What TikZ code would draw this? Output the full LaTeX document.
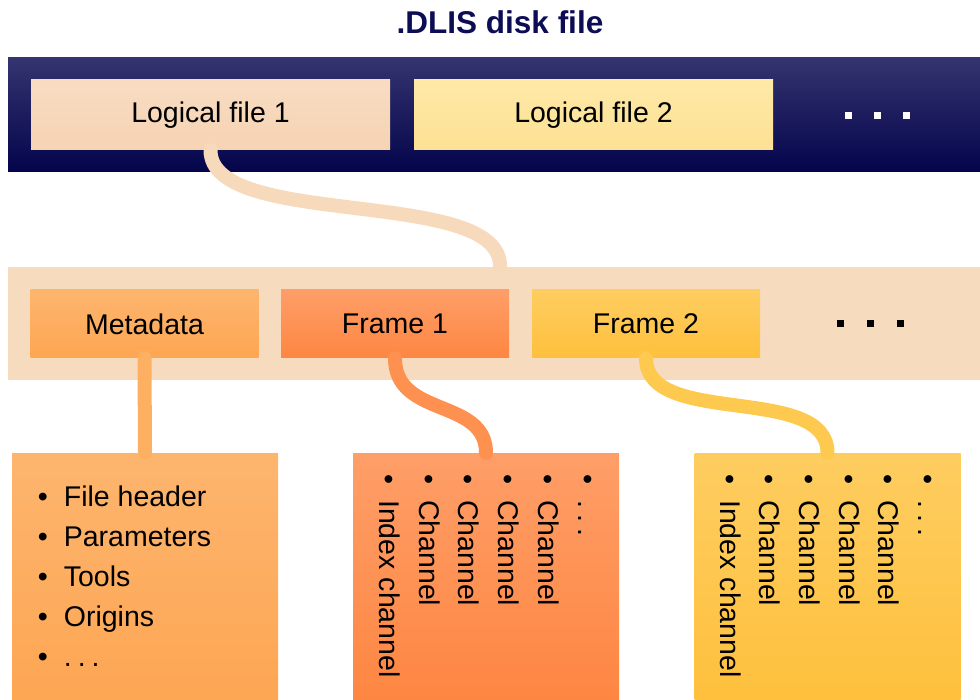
\documentclass[tikz,border=0pt]{standalone}
\usepackage{fontspec}
\setmainfont{Liberation Sans}

\definecolor{titlenavy}{HTML}{0D0D55}
\definecolor{navytop}{HTML}{34346F}
\definecolor{navybot}{HTML}{04044C}
\definecolor{peachtop}{HTML}{F8DCC2}
\definecolor{peachbot}{HTML}{F6D3B3}
\definecolor{creamtop}{HTML}{FEE9A8}
\definecolor{creambot}{HTML}{FDE193}
\definecolor{peachband}{HTML}{F7DBBF}
\definecolor{metatop}{HTML}{FDB56E}
\definecolor{metabot}{HTML}{FDA653}
\definecolor{frametop}{HTML}{FE9E68}
\definecolor{framebot}{HTML}{FE8642}
\definecolor{goldtop}{HTML}{FECD60}
\definecolor{goldbot}{HTML}{FEC03D}
\definecolor{peachlink}{HTML}{F7D9BB}
\definecolor{metalink}{HTML}{FDB062}
\definecolor{framelink}{HTML}{FE9050}
\definecolor{goldlink}{HTML}{FEC94F}

\newcommand\labelfont{\fontsize{28.5}{34}\selectfont}
\newcommand\titlefont{\fontsize{31.5}{38}\selectfont\bfseries}
\newcommand\moredots{.\hspace{6pt}.\hspace{6pt}.}

\tikzset{
  band/.style={rectangle, inner sep=0, minimum width=972, minimum height=114},
  box/.style={rectangle, inner sep=0, minimum width=228, minimum height=68, font=\labelfont},
  filebox/.style={rectangle, inner sep=0, minimum width=359, minimum height=70, font=\labelfont},
  listbox/.style={rectangle, inner sep=0, minimum width=266, minimum height=247},
  item/.style={anchor=base west, inner sep=0, font=\labelfont},
  chan/.style={item, rotate=-90},
  sq/.style={rectangle, inner sep=0, minimum size=7},
  link/.style={line width=14, line cap=round},
}

\begin{document}
\begin{tikzpicture}[x=1pt,y=-1pt]
\useasboundingbox (0,0) rectangle (980,700);

% Gap between bullet and text
\def\gap{16pt}
% Space between channel columns
\def\colsep{39.7}

% Disk file
\node (title) [anchor=base, font=\titlefont, text=titlenavy] at (500,33.3) {.DLIS disk file};
\node (disk) [band, top color=navytop, bottom color=navybot] at (494,115) {};
\node (lf1) [filebox, top color=peachtop, bottom color=peachbot] at (210.5,115) {Logical file 1};
\node (lf2) [filebox, top color=creamtop, bottom color=creambot] at (593.5,115) {Logical file 2};
\node (more1) [sq, fill=white] at (848.5,115.5) {};
\node (more2) [sq, fill=white] at (877.5,115.5) {};
\node (more3) [sq, fill=white] at (906.5,115.5) {};

% Logical file
\node (logical) [band, minimum height=113, fill=peachband] at (494,323.5) {};
\node (meta)   [box, top color=metatop, bottom color=metabot] at (144.5,324) {Metadata};
\node (frame1) [box, top color=frametop, bottom color=framebot] at (395,324) {Frame 1};
\node (frame2) [box, top color=goldtop, bottom color=goldbot] at (646,324) {Frame 2};
\node (more4) [sq, fill=black] at (840.5,323.7) {};
\node (more5) [sq, fill=black] at (870,323.7) {};
\node (more6) [sq, fill=black] at (900,323.7) {};
\coordinate (join) at (500,266);

% Contents
\node (metalist) [listbox, top color=metatop, bottom color=metabot] at (145,576.5) {};
\node (chans1)   [listbox, top color=frametop, bottom color=framebot] at (486,576.5) {};
\node (chans2)   [listbox, top color=goldtop, bottom color=goldbot] at (827.5,576.5) {};

\node (m1) [item] at (37.7,506.7) {\textbullet\hspace{\gap}File header};
\node (m2) [item] at (37.7,546.7) {\textbullet\hspace{\gap}Parameters};
\node (m3) [item] at (37.7,586.7) {\textbullet\hspace{\gap}Tools};
\node (m4) [item] at (37.7,626.7) {\textbullet\hspace{\gap}Origins};
\node (m5) [item] at (37.7,666.3) {\textbullet\hspace{\gap}\moredots};

\node (a1) [chan] at (379.5,474) {\textbullet\hspace{\gap}Index channel};
\node (a2) [chan] at (379.5+\colsep,474) {\textbullet\hspace{\gap}Channel};
\node (a3) [chan] at (379.5+\colsep*2,474) {\textbullet\hspace{\gap}Channel};
\node (a4) [chan] at (379.5+\colsep*3,474) {\textbullet\hspace{\gap}Channel};
\node (a5) [chan] at (379.5+\colsep*4,474) {\textbullet\hspace{\gap}Channel};
\node (a6) [chan] at (379.5+\colsep*5,474) {\textbullet\hspace{\gap}\moredots};

\node (b1) [chan] at (720,474) {\textbullet\hspace{\gap}Index channel};
\node (b2) [chan] at (720+\colsep,474) {\textbullet\hspace{\gap}Channel};
\node (b3) [chan] at (720+\colsep*2,474) {\textbullet\hspace{\gap}Channel};
\node (b4) [chan] at (720+\colsep*3,474) {\textbullet\hspace{\gap}Channel};
\node (b5) [chan] at (720+\colsep*4,474) {\textbullet\hspace{\gap}Channel};
\node (b6) [chan] at (720+\colsep*5,474) {\textbullet\hspace{\gap}\moredots};

% Links
\draw[link, peachlink] (lf1.south) .. controls +(0,80) and +(0,-80) .. (join);
\draw[link, metalink] (meta.south) -- (metalist.north);
\draw[link, framelink] (frame1.south) .. controls +(0,60) and +(0,-55) .. (chans1.north);
\draw[link, goldlink] (frame2.south) .. controls +(0,70) and +(0,-70) .. (chans2.north);

\end{tikzpicture}
\end{document}
